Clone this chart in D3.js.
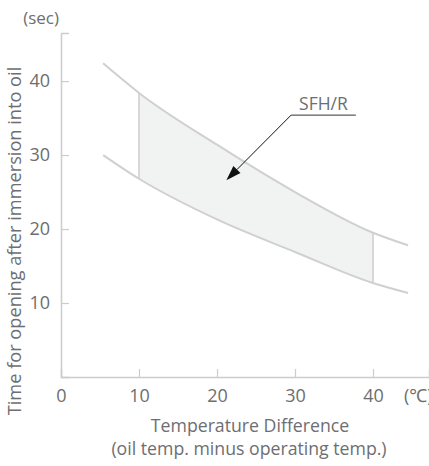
<!DOCTYPE html>
<html>
<head>
<meta charset="utf-8">
<script src="https://cdn.jsdelivr.net/npm/d3@7"></script>
<style>
  html, body { margin: 0; padding: 0; background: #fff; }
  svg { display: block; }
  text { font-family: "Open Sans", "Noto Sans", sans-serif; fill: #6d6e71; }
</style>
</head>
<body>
<svg id="chart" width="429" height="466"></svg>
<script>
// ---- data ----
const tempDiff   = [5.4, 10, 20, 30, 40, 44.5];          // °C
const upperTime  = [42.4, 38.4, 31.4, 25.0, 19.5, 17.8];  // sec
const lowerTime  = [30.0, 26.8, 21.3, 16.9, 12.7, 11.35]; // sec
const bandRange  = [10, 40];
const xTicks     = [0, 10, 20, 30, 40];
const yTicks     = [10, 20, 30, 40];
const xTitle     = ["Temperature Difference", "(oil temp. minus operating temp.)"];
const yTitle     = "Time for opening after immersion into oil";
const yUnit      = "(sec)";
const xUnit      = "(℃)";
const seriesName = "SFH/R";
const arrowFrom  = [29.5, 35.4];
const arrowTo    = [21.2, 26.6];
const labelLineEnd = 37.8;

const svg = d3.select("#chart");
const x = d3.scaleLinear().domain([0, 47.18]).range([61, 429]);
const y = d3.scaleLinear().domain([0, 46.5]).range([377, 33]);

const gridGray = "#cccccc";
const curveGray = "#d0d0d0";

const pts = tempDiff.map((t, i) => ({t, u: upperTime[i], l: lowerTime[i]}));
const curve = d3.curveMonotoneX;

svg.append("clipPath").attr("id", "band")
  .append("rect")
  .attr("x", x(bandRange[0])).attr("y", 0)
  .attr("width", x(bandRange[1]) - x(bandRange[0])).attr("height", 466);

svg.append("path")
  .datum(pts)
  .attr("clip-path", "url(#band)")
  .attr("fill", "#f1f2f2")
  .attr("d", d3.area().x(d => x(d.t)).y0(d => y(d.l)).y1(d => y(d.u)).curve(curve));

const upperLine = d3.line().x(d => x(d.t)).y(d => y(d.u)).curve(curve);
const lowerLine = d3.line().x(d => x(d.t)).y(d => y(d.l)).curve(curve);

bandRange.forEach(t => {
  const i = tempDiff.indexOf(t);
  svg.append("line")
    .attr("x1", x(t)).attr("x2", x(t))
    .attr("y1", y(upperTime[i])).attr("y2", y(lowerTime[i]))
    .attr("stroke", curveGray).attr("stroke-width", 1.6);
});

svg.append("path").datum(pts).attr("d", upperLine)
  .attr("fill", "none").attr("stroke", curveGray).attr("stroke-width", 2);
svg.append("path").datum(pts).attr("d", lowerLine)
  .attr("fill", "none").attr("stroke", curveGray).attr("stroke-width", 2);

// axes
const xAxis = svg.append("g").attr("transform", `translate(0,${y(0)})`)
  .call(d3.axisBottom(x).tickValues(xTicks).tickSize(-8).tickPadding(12).tickFormat(d3.format("d")));
const yAxis = svg.append("g").attr("transform", `translate(${x(0)},0)`)
  .call(d3.axisLeft(y).tickValues(yTicks).tickSize(-8).tickPadding(11).tickFormat(d3.format("d")));

[xAxis, yAxis].forEach(g => {
  g.attr("font-size", null).attr("font-family", null);
  g.select(".domain").attr("stroke", gridGray).attr("stroke-width", 1.5);
  g.selectAll(".tick line").attr("stroke", gridGray).attr("stroke-width", 1.2);
  g.selectAll(".tick text").attr("fill", "#6d6e71")
    .style("font-family", '"Open Sans", sans-serif').style("font-size", "18px");
});
xAxis.selectAll(".tick").filter(d => d === 0).select("line").remove();

// units
svg.append("text").attr("x", x(0) - 2).attr("y", 24)
  .attr("text-anchor", "end").style("font-size", "17px").text(yUnit);
svg.append("text").attr("x", 404).attr("y", 402)
  .attr("text-anchor", "start").style("font-size", "18px").text(xUnit);

// titles
svg.append("text").attr("x", 250).attr("y", 432).attr("text-anchor", "middle")
  .style("font-size", "17.7px").text(xTitle[0]);
svg.append("text").attr("x", 249).attr("y", 455).attr("text-anchor", "middle")
  .style("font-size", "17.7px").text(xTitle[1]);
svg.append("text").attr("transform", "translate(21,241) rotate(-90)")
  .attr("text-anchor", "middle").style("font-size", "18.2px").text(yTitle);

// annotation
const ax1 = x(arrowFrom[0]), ay1 = y(arrowFrom[1]);
const ax2 = x(arrowTo[0]), ay2 = y(arrowTo[1]);
svg.append("line").attr("x1", x(labelLineEnd)).attr("y1", ay1).attr("x2", ax1).attr("y2", ay1)
  .attr("stroke", "#333").attr("stroke-width", 1);
const ang = Math.atan2(ay2 - ay1, ax2 - ax1);
const headLen = 15, headW = 5;
const bx = ax2 - headLen * Math.cos(ang), by = ay2 - headLen * Math.sin(ang);
svg.append("line").attr("x1", ax1).attr("y1", ay1).attr("x2", bx).attr("y2", by)
  .attr("stroke", "#111").attr("stroke-width", 1);
svg.append("path")
  .attr("d", `M${ax2},${ay2}L${bx + headW * Math.sin(ang)},${by - headW * Math.cos(ang)}L${bx - headW * Math.sin(ang)},${by + headW * Math.cos(ang)}Z`)
  .attr("fill", "#111");
svg.append("text").attr("x", (x(labelLineEnd) + ax1) / 2).attr("y", ay1 - 5)
  .attr("text-anchor", "middle").style("font-size", "17.5px").text(seriesName);
</script>
</body>
</html>
